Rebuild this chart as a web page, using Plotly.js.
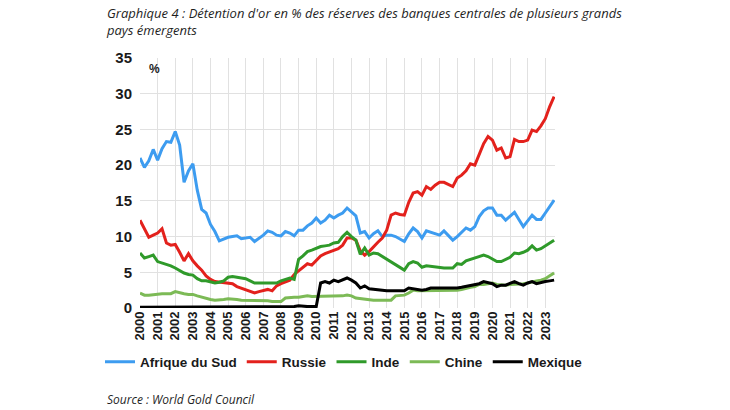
<!DOCTYPE html>
<html>
<head>
<meta charset="utf-8">
<script src="https://cdn.plot.ly/plotly-3.0.1.min.js"></script>
<style>
  html, body { margin: 0; padding: 0; background: #ffffff; }
  #chart { width: 730px; height: 410px; }
</style>
</head>
<body>
<div id="chart"></div>
<script>
// Quarterly observations, 2000 Q1 -> 2023 Q3
const startYear = 2000;
const yearTicks = [2000,2001,2002,2003,2004,2005,2006,2007,2008,2009,2010,2011,2012,2013,2014,2015,2016,2017,2018,2019,2020,2021,2022,2023];

const afriqueDuSud = [
  21.0,19.7,20.6,22.2, 20.7,22.3,23.3,23.2, 24.7,22.8,17.6,19.2, 20.2,16.5,13.8,13.3,
  11.7,10.7,9.4,9.7, 9.9,10.0,10.1,9.7, 9.8,9.9,9.3,9.7, 10.2,10.8,10.6,10.2,
  10.1,10.7,10.5,10.1, 10.9,10.9,11.5,11.9, 12.6,11.9,12.3,13.0, 12.6,13.0,13.3,14.0,
  13.4,12.9,10.5,10.7, 9.8,10.4,10.8,10.0, 10.2,10.2,10.0,9.6, 9.3,10.4,11.2,10.7,
  9.8,10.8,10.6,10.5, 10.2,10.8,10.2,9.5, 10.0,10.6,11.2,10.9, 11.4,12.8,13.6,14.0,
  14.0,13.0,13.0,12.3, 12.8,13.4,12.4,11.4, 12.2,13.0,12.4,12.4, 13.3,14.2,15.1
];
const russie = [
  12.3,11.0,9.9,10.2, 10.5,11.1,9.1,8.8, 8.9,7.8,6.6,7.6, 6.6,5.9,5.3,4.5,
  4.0,3.7,3.6,3.6, 3.5,3.4,3.0,2.8, 2.5,2.3,2.1,2.3, 2.5,2.6,2.4,3.1,
  3.4,3.7,3.9,4.7, 5.2,5.6,6.2,6.0, 6.6,7.3,7.6,7.8, 8.0,8.3,8.8,9.8,
  9.8,9.5,8.0,7.4, 7.9,8.6,9.2,9.8, 10.9,13.0,13.3,13.1, 13.0,14.8,16.1,16.3,
  15.8,17.0,16.6,17.2, 17.6,17.6,17.3,17.0, 18.2,18.6,19.2,20.2, 20.0,21.4,23.0,24.0,
  23.5,22.1,22.4,21.0, 21.2,23.6,23.3,23.3, 23.5,24.9,24.7,25.5, 26.5,28.2,29.6
];
const inde = [
  7.7,7.0,7.2,7.4, 6.5,6.3,6.2,5.9, 5.6,5.2,4.9,4.7, 4.6,4.1,3.8,3.8,
  3.6,3.5,3.6,3.8, 4.3,4.4,4.3,4.2, 4.1,3.8,3.5,3.5, 3.5,3.5,3.5,3.5,
  3.8,4.0,4.2,4.0, 6.8,7.3,7.9,8.1, 8.4,8.6,8.7,8.8, 9.1,9.2,10.0,10.6,
  10.0,9.5,7.5,8.4, 7.4,7.7,7.6,7.2, 6.8,6.4,6.0,5.6, 5.3,6.2,6.5,6.3,
  5.7,5.9,5.8,5.7, 5.6,5.6,5.6,5.6, 6.2,6.1,6.6,6.8, 7.0,7.3,7.4,7.2,
  6.9,6.5,6.5,6.8, 7.1,7.7,7.6,7.8, 8.1,8.7,8.1,8.3, 8.7,9.1,9.5
];
const chine = [
  2.1,1.8,1.8,1.9, 1.9,2.0,2.0,2.0, 2.3,2.1,2.0,1.9, 1.9,1.7,1.5,1.4,
  1.2,1.1,1.1,1.2, 1.3,1.3,1.2,1.1, 1.1,1.0,1.0,1.0, 1.0,1.0,0.9,0.9,
  0.9,1.4,1.5,1.5, 1.5,1.6,1.7,1.6, 1.6,1.6,1.6,1.6, 1.6,1.7,1.7,1.8,
  1.7,1.4,1.3,1.2, 1.1,1.1,1.1,1.1, 1.0,1.1,1.7,1.7, 1.8,2.1,2.5,2.4,
  2.4,2.4,2.5,2.4, 2.4,2.4,2.5,2.4, 2.5,2.6,2.8,2.9, 3.0,3.3,3.3,3.4,
  3.5,3.3,3.2,3.2, 3.3,3.3,3.3,3.4, 3.5,3.7,3.8,3.9, 4.1,4.5,4.9
];
const mexique = [
  0.1,0.1,0.1,0.1, 0.1,0.1,0.1,0.1, 0.2,0.1,0.1,0.1, 0.1,0.1,0.1,0.1,
  0.1,0.1,0.1,0.1, 0.1,0.1,0.1,0.1, 0.1,0.1,0.1,0.1, 0.1,0.1,0.1,0.1,
  0.1,0.1,0.1,0.2, 0.3,0.2,0.2,0.2, 0.2,3.5,3.7,3.5, 3.9,3.7,4.0,4.2,
  3.9,3.5,2.8,3.1, 2.7,2.6,2.5,2.4, 2.4,2.4,2.4,2.4, 2.4,2.8,2.7,2.6,
  2.5,2.6,2.8,2.8, 2.8,2.7,2.7,2.7, 2.8,2.9,3.0,3.1, 3.2,3.4,3.7,3.6,
  3.4,3.0,3.2,3.2, 3.5,3.7,3.4,3.2, 3.5,3.7,3.4,3.6, 3.7,3.8,3.9
];

const seriesNames = ['Afrique du Sud', 'Russie', 'Inde', 'Chine', 'Mexique'];
const seriesColors = ['#3d9cf0', '#e3211c', '#2f9a2a', '#7cba56', '#000000'];
const seriesValues = [afriqueDuSud, russie, inde, chine, mexique];

// quarter positions on the time axis
const quarters = afriqueDuSud.map((_, i) => startYear + i / 4);

const traces = seriesValues.map((vals, k) => ({
  type: 'scatter',
  mode: 'lines',
  x: quarters,
  y: vals,
  name: seriesNames[k],
  line: { color: seriesColors[k], width: 3 },
  hoverinfo: 'x+y+name'
}));

const sans = 'Liberation Sans, Arial, sans-serif';
const axisFont = { family: sans, size: 13, color: '#1a1a1a', weight: 'bold' };

const layout = {
  width: 730,
  height: 410,
  margin: { l: 140, r: 175, t: 58, b: 102, pad: 0 },
  paper_bgcolor: '#ffffff',
  plot_bgcolor: '#ffffff',
  showlegend: true,
  legend: {
    orientation: 'h',
    x: (100 - 140) / 415, xanchor: 'left',
    y: -(362 - 308) / 250, yanchor: 'middle',
    font: { family: sans, size: 13.5, color: '#1a1a1a', weight: 'bold' },
    itemwidth: 30,
    bgcolor: 'rgba(0,0,0,0)'
  },
  xaxis: {
    type: 'linear',
    range: [2000, 2023.55],
    tickmode: 'array',
    tickvals: yearTicks,
    ticktext: yearTicks.map(String),
    tickangle: -90,
    tickfont: axisFont,
    showgrid: true,
    gridcolor: '#e1e1e1',
    gridwidth: 1,
    zeroline: false,
    showline: false,
    ticks: ''
  },
  yaxis: {
    range: [0, 35],
    tickmode: 'linear',
    tick0: 0,
    dtick: 5,
    tickfont: { family: sans, size: 15, color: '#1a1a1a', weight: 'bold' },
    showgrid: true,
    gridcolor: '#e1e1e1',
    gridwidth: 1,
    zeroline: false,
    showline: false,
    ticks: '',
    ticklabelstandoff: 7
  },
  annotations: [
    {
      text: "Graphique 4 : Détention d'or en % des réserves des banques centrales de plusieurs grands<br>pays émergents",
      xref: 'paper', yref: 'paper',
      x: (104 - 140) / 415, y: (308 - 2) / 250,
      xanchor: 'left', yanchor: 'top', align: 'left',
      showarrow: false,
      font: { family: 'Open Sans, sans-serif', size: 13, color: '#1f1f1f', style: 'italic' }
    },
    {
      text: '%',
      xref: 'paper', yref: 'paper',
      x: 0.018, y: 0.955, xanchor: 'left', yanchor: 'middle',
      showarrow: false,
      font: { family: sans, size: 12, color: '#1a1a1a', weight: 'bold' }
    },
    {
      text: 'Source : World Gold Council',
      xref: 'paper', yref: 'paper',
      x: (105 - 140) / 415, y: -(400 - 308) / 250,
      xanchor: 'left', yanchor: 'middle',
      showarrow: false,
      font: { family: 'Open Sans, sans-serif', size: 12, color: '#1f1f1f', style: 'italic' }
    }
  ]
};

Plotly.newPlot('chart', traces, layout, { displayModeBar: false, staticPlot: true });
</script>
</body>
</html>
